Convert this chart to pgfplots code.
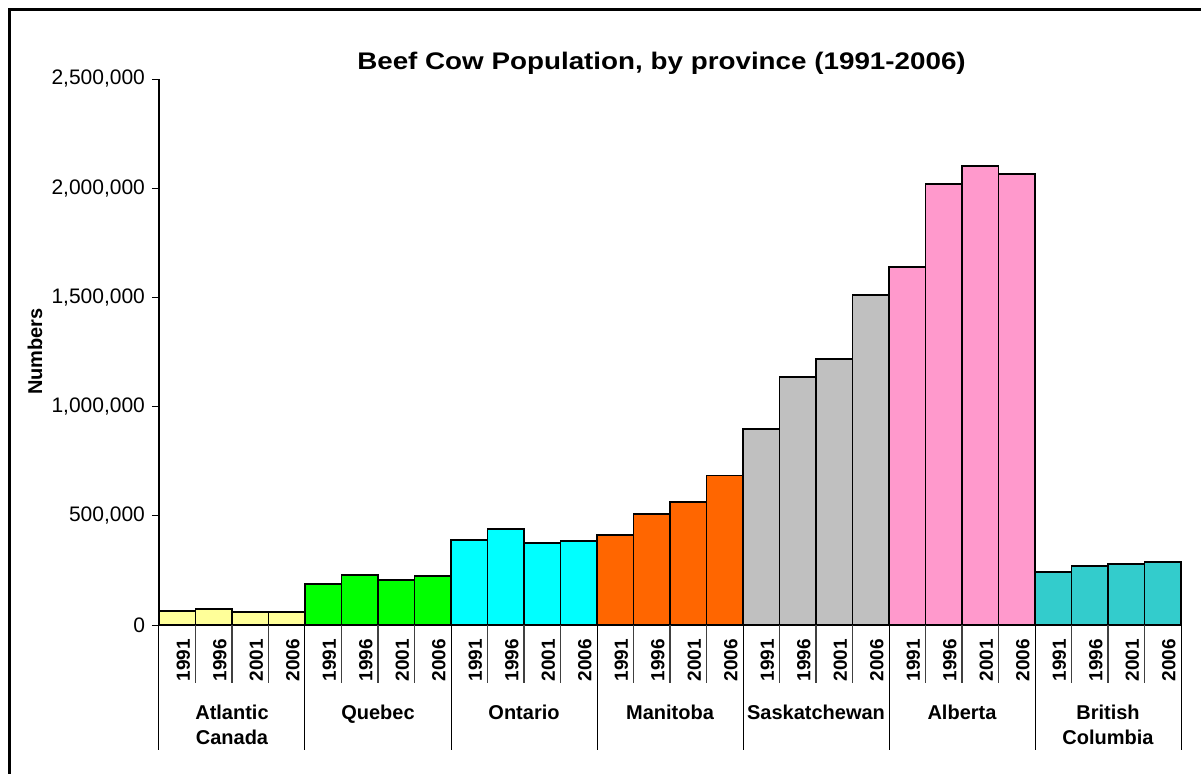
\documentclass[border=0pt]{standalone}
\usepackage{pgfplots}
\pgfplotsset{compat=1.18}
\usepackage{fontspec}
\setmainfont{Liberation Sans}
\definecolor{cAtl}{HTML}{FFFF99}
\definecolor{cQue}{HTML}{00FF00}
\definecolor{cOnt}{HTML}{00FFFF}
\definecolor{cMan}{HTML}{FF6600}
\definecolor{cSas}{HTML}{C0C0C0}
\definecolor{cAlb}{HTML}{FF99CC}
\definecolor{cBC}{HTML}{33CCCC}
\tikzset{grp/.style={anchor=base, font=\bfseries\fontsize{10}{12}\selectfont}}
\begin{document}
\begin{tikzpicture}[x=0.5pt,y=0.5pt]
\clip (0,0) rectangle (1201,773);
\draw[line width=1.5pt] (9.5,-100) -- (9.5,763.5) -- (1400,763.5);
\node[font=\bfseries\fontsize{12}{14}\selectfont, anchor=base, xscale=1.158] at (661.5,703.5) {Beef Cow Population, by province (1991-2006)};
\node[font=\bfseries\fontsize{10}{12}\selectfont, rotate=90, anchor=base] at (42,421.5) {Numbers};
\begin{axis}[
  at={(79.5pt,74pt)}, anchor=south west,
  scale only axis, width=511pt, height=273pt,
  xmin=0, xmax=28, ymin=0, ymax=2500000,
  clip=false,
  axis x line=bottom, axis y line=left,
  axis line style={-, line width=0.6pt},
  tick align=outside, major tick length=3.5pt,
  tick style={black, line width=0.5pt},
  xtick={0.5,1.5,...,27.5},
  xticklabels={1991,1996,2001,2006,1991,1996,2001,2006,1991,1996,2001,2006,1991,1996,2001,2006,1991,1996,2001,2006,1991,1996,2001,2006,1991,1996,2001,2006},
  major x tick style={draw=none},
  xticklabel style={rotate=90, anchor=east, font=\bfseries\fontsize{9.5}{11}\selectfont, yshift=-3pt},
  ytick={0,500000,1000000,1500000,2000000,2500000},
  scaled y ticks=false,
  yticklabel style={font=\fontsize{10.5}{12}\selectfont},
  /pgf/number format/.cd, fixed, 1000 sep={,}, assume math mode=true,
]
\addplot[ybar, bar width=1, bar shift=0pt, fill=cAtl, draw=black, line width=0.9pt] coordinates {(0.5,64000) (1.5,72000) (2.5,60000) (3.5,61000)};
\addplot[ybar, bar width=1, bar shift=0pt, fill=cQue, draw=black, line width=0.9pt] coordinates {(4.5,188000) (5.5,230000) (6.5,207000) (7.5,224000)};
\addplot[ybar, bar width=1, bar shift=0pt, fill=cOnt, draw=black, line width=0.9pt] coordinates {(8.5,389000) (9.5,440000) (10.5,377000) (11.5,383000)};
\addplot[ybar, bar width=1, bar shift=0pt, fill=cMan, draw=black, line width=0.9pt] coordinates {(12.5,412000) (13.5,510000) (14.5,563000) (15.5,685000)};
\addplot[ybar, bar width=1, bar shift=0pt, fill=cSas, draw=black, line width=0.9pt] coordinates {(16.5,897000) (17.5,1136000) (18.5,1217000) (19.5,1511000)};
\addplot[ybar, bar width=1, bar shift=0pt, fill=cAlb, draw=black, line width=0.9pt] coordinates {(20.5,1638000) (21.5,2019000) (22.5,2102000) (23.5,2066000)};
\addplot[ybar, bar width=1, bar shift=0pt, fill=cBC, draw=black, line width=0.9pt] coordinates {(24.5,243000) (25.5,272000) (26.5,279000) (27.5,287000)};
\pgfplotsinvokeforeach{1,2,3,5,6,7,9,10,11,13,14,15,17,18,19,21,22,23,25,26,27}{
  \draw[black!75, line width=0.6pt] (axis cs:#1,0) -- ([yshift=-29pt]axis cs:#1,0);
}
\pgfplotsinvokeforeach{0,4,8,12,16,20,24,28}{
  \draw[black, line width=0.5pt] (axis cs:#1,0) -- ([yshift=-62.5pt]axis cs:#1,0);
}
\node[grp] at ([yshift=-47pt]axis cs:2,0) {Atlantic};
\node[grp] at ([yshift=-59.5pt]axis cs:2,0) {Canada};
\node[grp] at ([yshift=-47pt]axis cs:6,0) {Quebec};
\node[grp] at ([yshift=-47pt]axis cs:10,0) {Ontario};
\node[grp] at ([yshift=-47pt]axis cs:14,0) {Manitoba};
\node[grp] at ([yshift=-47pt]axis cs:18,0) {Saskatchewan};
\node[grp] at ([yshift=-47pt]axis cs:22,0) {Alberta};
\node[grp] at ([yshift=-47pt]axis cs:26,0) {British};
\node[grp] at ([yshift=-59.5pt]axis cs:26,0) {Columbia};
\end{axis}
\end{tikzpicture}
\end{document}
